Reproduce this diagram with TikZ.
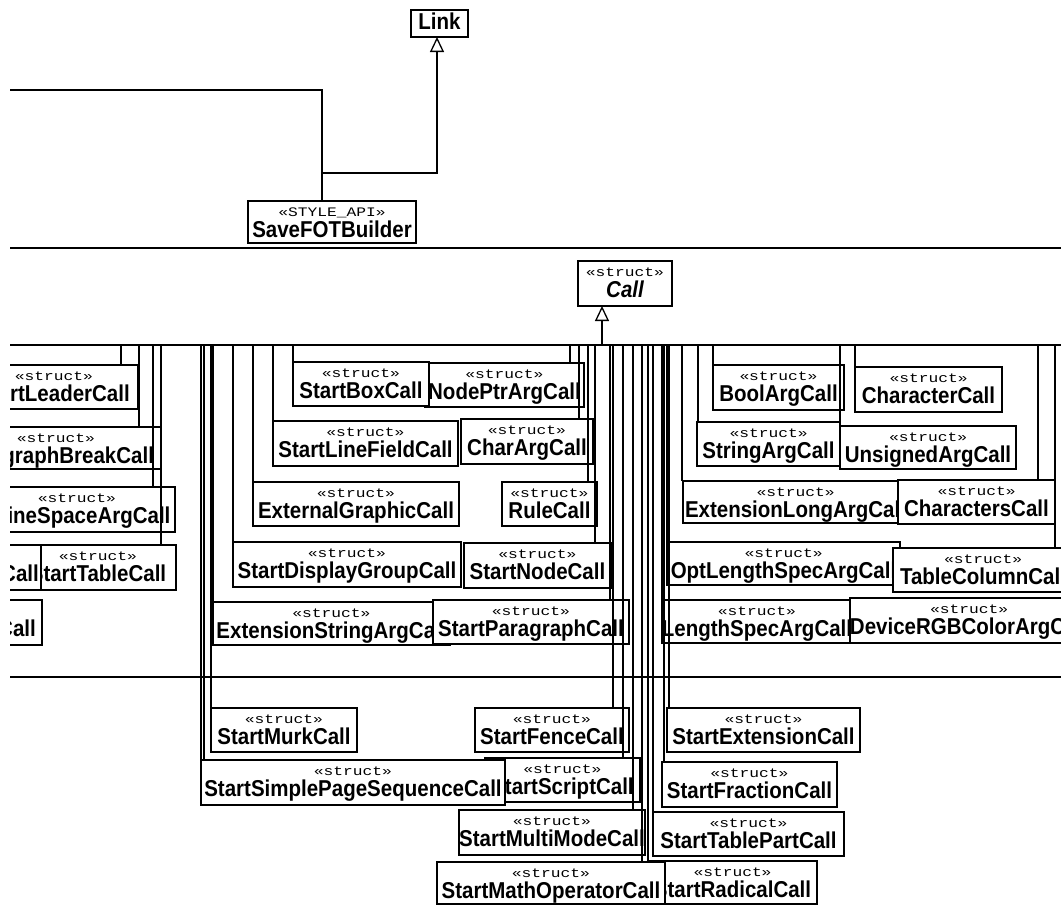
\documentclass[tikz,border=0pt]{standalone}
\usepackage{fontspec}
\usepackage{graphicx}
\setmainfont{Liberation Sans}
\newfontfamily\stereofont{Liberation Mono}
\usetikzlibrary{arrows.meta}

\newcommand\stereotxt[1]{\scalebox{1.25}[1]{\stereofont\fontsize{13}{13}\selectfont #1}}
\newcommand\nametxt[1]{\scalebox{1}[1.12]{#1}}

\tikzset{
  conn/.style={line width=1.3pt},
  gen/.style={conn, -{Triangle[open, length=15pt, width=14pt, line width=1.3pt]}},
  classbox/.style={draw, line width=1.3pt, fill=white, inner sep=0pt, outer sep=0pt, rectangle},
  stereo/.style={anchor=base, inner sep=0pt},
  cname/.style={anchor=base, inner sep=0pt, font=\bfseries\fontsize{20.5}{20.5}\selectfont},
}

% class box: id, x1, y1, x2, y2, stereotype, class name (name clipped to the box)
\newcommand\umlclass[7]{%
  \pgfmathsetmacro\boxw{#4-(#2)}%
  \pgfmathsetmacro\boxh{#5-(#3)}%
  \pgfmathsetmacro\boxcx{(#2+#4)/2}%
  \pgfmathsetmacro\boxcy{(#3+#5)/2}%
  \node[classbox, minimum width=\boxw pt, minimum height=\boxh pt] (#1) at (\boxcx,\boxcy) {};%
  \begin{scope}
    \clip (#1.south west) rectangle (#1.north east);
    \node[stereo] (#1-s) at ([yshift=-15pt]#1.north) {\stereotxt{#6}};
    \node[cname] (#1-n) at ([yshift=-36pt]#1.north) {\nametxt{#7}};
  \end{scope}}

\begin{document}
\begin{tikzpicture}[x=1pt,y=-1pt]
\useasboundingbox (0,0) rectangle (1061,906);
\fill[white] (0,0) rectangle (1061,906);
\clip (10,9) rectangle (1061,906);

% ---------- upper package: SaveFOTBuilder and Link ----------
\node[classbox, minimum width=57pt, minimum height=27pt] (link) at (439.5,23.5) {};
\node[cname] (link-n) at (439.5,29.5) {\nametxt{Link}};
\umlclass{savefot}{248}{201}{416}{243}{«STYLE\_API»}{SaveFOTBuilder}

\coordinate (lft) at (10,90);
\coordinate (jn) at (322,90);
\coordinate (jb) at (322,173);
\coordinate (lk) at (437,173);
\draw[conn] (lft) -- (jn) -- (jn |- savefot.north);
\draw[gen] (jb) -- (lk) -- (lk |- link.south);

% package separators
\coordinate (sepAw) at (10,248);  \coordinate (sepAe) at (1061,248);
\coordinate (sepBw) at (10,677);  \coordinate (sepBe) at (1061,677);
\draw[conn] (sepAw) -- (sepAe);
\draw[conn] (sepBw) -- (sepBe);

% ---------- Call hierarchy ----------
\umlclass{call}{578}{261}{672}{306}{«struct»}{\itshape Call}
\coordinate (busw) at (10,345);
\coordinate (buse) at (1061,345);
\coordinate (cb) at (602,345);
\draw[conn] (busw) -- (buse);
\draw[gen] (cb) -- (cb |- call.south);

% left column
\umlclass{leader}{-30}{365}{138}{409}{«struct»}{StartLeaderCall}
\umlclass{parabreak}{-49}{427}{161}{469}{«struct»}{ParagraphBreakCall}
\umlclass{inlinespace}{-21}{487}{175}{532}{«struct»}{InlineSpaceArgCall}
\umlclass{starttable}{20}{545}{176}{590}{«struct»}{StartTableCall}
\node[classbox, minimum width=101pt, minimum height=45pt] (rowcall) at (-9.5,567.5) {};
\node[cname, anchor=base east] (rowcall-n) at (39,581) {\nametxt{Call}};
\node[classbox, minimum width=102pt, minimum height=45pt] (lastcall) at (-9,622.5) {};
\node[cname, anchor=base east] (lastcall-n) at (36,636) {\nametxt{Call}};

% middle column
\umlclass{nodeptr}{425}{363}{584}{407}{«struct»}{NodePtrArgCall}
\umlclass{startbox}{293}{362}{429}{406}{«struct»}{StartBoxCall}
\umlclass{linefield}{273}{421}{458}{466}{«struct»}{StartLineFieldCall}
\umlclass{chararg}{461}{419}{593}{464}{«struct»}{CharArgCall}
\umlclass{extgraphic}{253}{482}{459}{526}{«struct»}{ExternalGraphicCall}
\umlclass{rule}{502}{482}{597}{526}{«struct»}{RuleCall}
\umlclass{displaygroup}{233}{542}{461}{587}{«struct»}{StartDisplayGroupCall}
\umlclass{startnode}{464}{543}{611}{588}{«struct»}{StartNodeCall}
\umlclass{extstring}{213}{602}{450}{645}{«struct»}{ExtensionStringArgCall}
\umlclass{startpara}{433}{600}{629}{644}{«struct»}{StartParagraphCall}

% right column
\umlclass{boolarg}{713}{365}{844}{410}{«struct»}{BoolArgCall}
\umlclass{character}{855}{367}{1002}{412}{«struct»}{CharacterCall}
\umlclass{stringarg}{697}{422}{840}{466}{«struct»}{StringArgCall}
\umlclass{unsignedarg}{840}{426}{1016}{469}{«struct»}{UnsignedArgCall}
\umlclass{extlong}{683}{481}{908}{523}{«struct»}{ExtensionLongArgCall}
\umlclass{characters}{898}{480}{1055}{524}{«struct»}{CharactersCall}
\umlclass{optlength}{667}{542}{900}{585}{«struct»}{OptLengthSpecArgCall}
\umlclass{tablecolumn}{893}{548}{1073}{592}{«struct»}{TableColumnCall}
\umlclass{lengthspec}{662}{600}{852}{643}{«struct»}{LengthSpecArgCall}
\umlclass{devicergb}{850}{598}{1088}{643}{«struct»}{DeviceRGBColorArgCall}

% lower package
\umlclass{fence}{475}{708}{629}{752}{«struct»}{StartFenceCall}
\umlclass{murk}{211}{708}{357}{752}{«struct»}{StartMurkCall}
\umlclass{script}{485}{758}{640}{802}{«struct»}{StartScriptCall}
\umlclass{simplepage}{201}{760}{505}{805}{«struct»}{StartSimplePageSequenceCall}
\umlclass{multimode}{459}{810}{645}{855}{«struct»}{StartMultiModeCall}
\umlclass{tablepart}{653}{812}{844}{856}{«struct»}{StartTablePartCall}
\umlclass{extension}{667}{708}{860}{752}{«struct»}{StartExtensionCall}
\umlclass{fraction}{662}{762}{837}{807}{«struct»}{StartFractionCall}
\umlclass{radical}{648}{861}{817}{904}{«struct»}{StartRadicalCall}
\umlclass{mathop}{437}{862}{665}{904}{«struct»}{StartMathOperatorCall}

% drops from the inheritance bus down to each subclass
\foreach \x/\t in {121/leader, 139/parabreak, 153/inlinespace, 161/starttable,
  201/simplepage, 204/simplepage, 211/murk, 213/extstring,
  233/displaygroup, 253/extgraphic, 273/linefield, 293/startbox,
  570/nodeptr, 579/chararg, 588/rule, 595/startnode,
  610/startpara, 613/fence, 623/script, 633/multimode, 642/mathop,
  648/radical, 653/tablepart, 662/lengthspec, 664/fraction, 667/optlength,
  669/extension, 682/extlong, 698/stringarg, 713/boolarg,
  840/unsignedarg, 855/character, 1038/characters, 1055/tablecolumn}{
  \coordinate (d\x) at (\x,345);
  \draw[conn] (d\x) -- (d\x |- \t.north);
}
\end{tikzpicture}
\end{document}
